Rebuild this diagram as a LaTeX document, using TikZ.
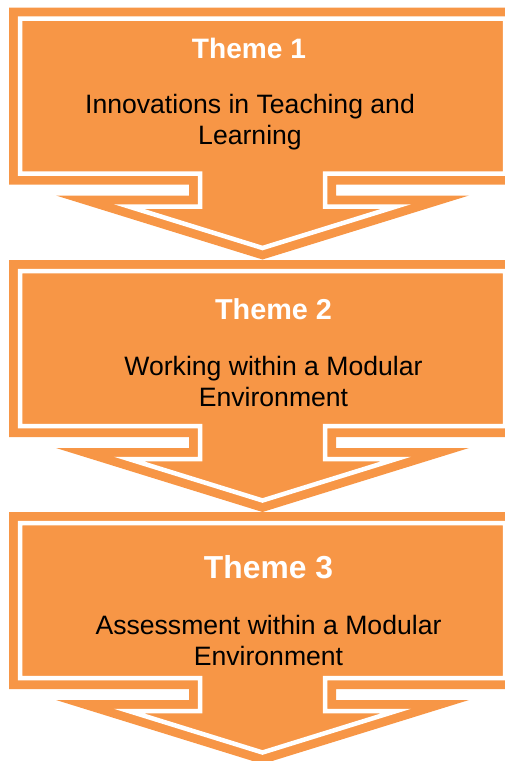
\documentclass[tikz,border=0pt]{standalone}
\usepackage{fontspec}
\setmainfont{Liberation Sans}
\definecolor{themeorange}{HTML}{F79646}
\tikzset{
	callout/.style={fill=themeorange},
	rim/.style={draw=white,line width=4.5pt},
	themetitle/.style={anchor=base,text=white,inner sep=0pt,font=\bfseries\fontsize{#1}{#1}\selectfont},
	themetext/.style={anchor=base,align=center,inner sep=0pt,font=\fontsize{26.6}{30.8}\selectfont}
}
\begin{document}
\begin{tikzpicture}[x=1pt,y=-1pt]
	\useasboundingbox (0,0) rectangle (504,761);

	% Draw the three down-arrow callouts
	\foreach \yo in {7.5,260,512}{
		\begin{scope}[shift={(0,\yo)}]
			\fill[callout] (9,0) -- (516,0) -- (516,177) -- (336,177) -- (336,188) -- (469,188) -- (262.5,252) -- (56,188) -- (189,188) -- (189,177) -- (9,177) -- cycle;
			\draw[rim] (20,11) -- (505,11) -- (505,166) -- (325,166) -- (325,199) -- (396.3,199) -- (262.5,240.5) -- (128.7,199) -- (200,199) -- (200,166) -- (20,166) -- cycle;
		\end{scope}
	}

	% Label themes (text nodes sit on the baseline of their last line)
	\node[themetitle=28.1] (t1) at (249,58.3) {Theme 1};
	\node[themetext] (d1) at (250,144.4) {Innovations in Teaching and\\Learning};
	\node[themetitle=28.8] (t2) at (273.5,319.3) {Theme 2};
	\node[themetext] (d2) at (273.5,406.7) {Working within a Modular\\Environment};
	\node[themetitle=31.8] (t3) at (268.5,578.3) {Theme 3};
	\node[themetext] (d3) at (268.5,665) {Assessment within a Modular\\Environment};
\end{tikzpicture}
\end{document}
